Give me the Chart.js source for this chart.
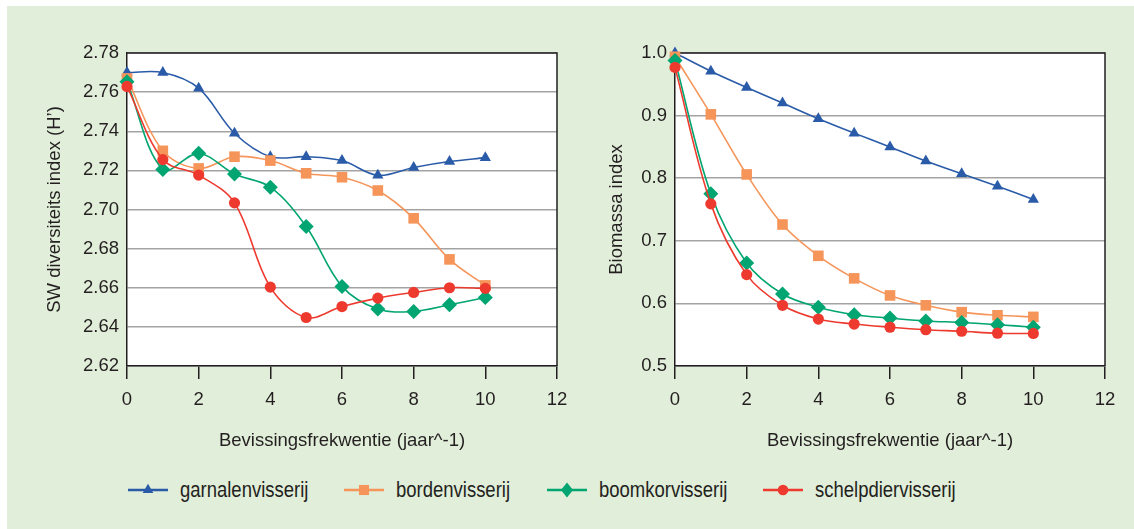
<!DOCTYPE html>
<html><head><meta charset="utf-8">
<script src="https://cdn.jsdelivr.net/npm/chart.js@4.4.1/dist/chart.umd.min.js"></script>
<style>
html,body{margin:0;padding:0;background:#fff;width:1134px;height:529px;overflow:hidden;}
#panel{position:absolute;left:7px;top:6px;width:1127px;height:523px;background:#e1eed9;}
#w1{position:absolute;left:0;top:0;width:580px;height:470px;}
#w2{position:absolute;left:560px;top:0;width:574px;height:470px;}
.leg{position:absolute;top:477px;height:26px;font-family:'Liberation Sans',Arial,sans-serif;font-size:22px;color:#231f20;line-height:26px;white-space:nowrap;}
.leg canvas{position:absolute;left:0;top:0;}
.leg span{position:absolute;top:0;transform:scaleX(0.84);transform-origin:0 50%;}
</style></head>
<body>
<div id="panel"></div>
<div id="w1"><canvas id="c1" width="580" height="470"></canvas></div>
<div id="w2"><canvas id="c2" width="574" height="470"></canvas></div>
<div id="legend"></div>
<script>
// ---- data ----
const xValues = [0,1,2,3,4,5,6,7,8,9,10];
const seriesNames = ['garnalenvisserij','bordenvisserij','boomkorvisserij','schelpdiervisserij'];
// SW diversity index (left)
const swGarnalen = [2.770,2.770,2.762,2.739,2.727,2.727,2.725,2.7175,2.7215,2.7245,2.7265];
const swBorden   = [2.767,2.730,2.721,2.727,2.725,2.7185,2.7165,2.7097,2.6955,2.6745,2.6612];
const swBoomkor  = [2.7653,2.7205,2.7287,2.7181,2.7114,2.6913,2.6607,2.6491,2.6479,2.6513,2.655];
const swSchelp   = [2.7629,2.7255,2.7176,2.7034,2.6603,2.6448,2.6504,2.6547,2.6576,2.660,2.6597];
// Biomass index (right)
const bmGarnalen = [1.000,0.971,0.945,0.920,0.895,0.872,0.850,0.8275,0.807,0.787,0.766];
const bmBorden   = [0.994,0.902,0.806,0.726,0.676,0.640,0.6127,0.597,0.586,0.581,0.5785];
const bmBoomkor  = [0.988,0.775,0.6645,0.615,0.594,0.582,0.5765,0.572,0.5695,0.566,0.562];
const bmSchelp   = [0.977,0.759,0.646,0.597,0.575,0.567,0.562,0.558,0.5555,0.5524,0.552];
const xTickMin = 0, xTickMax = 12, xTickStep = 2;
const swMin = 2.62, swMax = 2.78, swStep = 0.02;
const bmMin = 0.5, bmMax = 1.0, bmStep = 0.1;

// ---- styles ----
const FONT = "'Liberation Sans',Arial,sans-serif";
const FS = 18.5;
const TXT = '#231f20';
const colors = ['#2a5ba8','#f6955a','#00a571','#ee3a2e'];
const shapes = ['triangle','rect','rectRot','circle'];
const radii = [6.5,7.5,7.5,5.6];

function mkData(vals){ return xValues.map((x,i)=>({x:x,y:vals[i]})); }
function mkSets(arr){
  return arr.map((vals,i)=>({
    label: seriesNames[i], data: mkData(vals),
    borderColor: colors[i], backgroundColor: colors[i],
    pointBackgroundColor: colors[i], pointBorderColor: colors[i], pointBorderWidth: 0,
    pointStyle: shapes[i], pointRadius: radii[i], pointHoverRadius: radii[i],
    borderWidth: 1.6, tension: 0.35, clip: false, order: 4 - i
  }));
}
const framePlugin = {
  id:'frame',
  beforeDraw(chart){
    const a = chart.chartArea, c = chart.ctx;
    c.save(); c.fillStyle = '#ffffff'; c.fillRect(a.left,a.top,a.right-a.left,a.bottom-a.top); c.restore();
  },
  beforeDatasetsDraw(chart){
    const a = chart.chartArea, c = chart.ctx;
    c.save(); c.strokeStyle = TXT; c.lineWidth = 1.5;
    c.beginPath(); c.moveTo(a.left,a.top); c.lineTo(a.right,a.top); c.lineTo(a.right,a.bottom); c.stroke();
    c.restore();
  }
};
function mkChart(id, sets, yMin, yMax, yStep, dec, yTitle, yW, padRight, yTitlePad){
  return new Chart(document.getElementById(id), {
    type:'line',
    data:{ datasets: mkSets(sets) },
    plugins:[framePlugin],
    options:{
      responsive:false, animation:false, devicePixelRatio:1,
      layout:{ padding:{ left:0, top:53, right:padRight, bottom:0 } },
      plugins:{ legend:{display:false}, tooltip:{enabled:false} },
      scales:{
        x:{
          type:'linear', min:xTickMin, max:xTickMax,
          ticks:{ stepSize:xTickStep, color:TXT, font:{family:FONT,size:FS}, padding:10, maxRotation:0 },
          grid:{ drawOnChartArea:false, drawTicks:true, tickLength:13, color:TXT, lineWidth:1.5 },
          border:{ display:true, color:TXT, width:1.5 },
          title:{ display:true, text:'Bevissingsfrekwentie (jaar^-1)', color:TXT, font:{family:FONT,size:FS}, padding:{top:0,bottom:18} },
          afterFit(s){ s.height = 104; }
        },
        y:{
          min:yMin, max:yMax,
          ticks:{ stepSize:yStep, color:TXT, font:{family:FONT,size:FS}, padding:8, callback:(v)=>Number(v).toFixed(dec) },
          grid:{ drawOnChartArea:true, drawTicks:false, color:'#a3a3a3', lineWidth:1.5 },
          border:{ display:true, color:TXT, width:1.5 },
          title:{ display:true, text:yTitle, color:TXT, font:{family:FONT,size:FS}, padding:{top:yTitlePad,bottom:0} },
          afterFit(s){ s.width = yW; }
        }
      }
    }
  });
}
mkChart('c1',[swGarnalen,swBorden,swBoomkor,swSchelp], swMin, swMax, swStep, 2, 'SW diversiteits index (H’)', 127, 23, 44);
mkChart('c2',[bmGarnalen,bmBorden,bmBoomkor,bmSchelp], bmMin, bmMax, bmStep, 1, 'Biomassa index', 115, 29, 46);

// ---- legend ----
const legX = [128,344,547,763];
const lg = document.getElementById('legend');
seriesNames.forEach((name,i)=>{
  const d = document.createElement('div'); d.className='leg'; d.style.left = legX[i]+'px'; d.style.width='220px';
  const cv = document.createElement('canvas'); cv.width=40; cv.height=26; d.appendChild(cv);
  const s = document.createElement('span'); s.textContent = name; s.style.left='52px'; d.appendChild(s);
  lg.appendChild(d);
  const c = cv.getContext('2d');
  c.strokeStyle = colors[i]; c.fillStyle = colors[i]; c.lineWidth = 2.5;
  c.beginPath(); c.moveTo(0,13); c.lineTo(40,13); c.stroke();
  const r = radii[i]*0.95, cx=20, cy=13;
  c.beginPath();
  if (shapes[i]==='triangle'){ c.moveTo(cx,cy-r); c.lineTo(cx+r*0.866,cy+r*0.5); c.lineTo(cx-r*0.866,cy+r*0.5); c.closePath(); }
  else if (shapes[i]==='rect'){ const h=r*0.7071; c.rect(cx-h,cy-h,2*h,2*h); }
  else if (shapes[i]==='rectRot'){ c.moveTo(cx-r*0.85,cy); c.lineTo(cx,cy-r*1.05); c.lineTo(cx+r*0.85,cy); c.lineTo(cx,cy+r*1.05); c.closePath(); }
  else { c.arc(cx,cy,r,0,Math.PI*2); }
  c.fill();
});
</script>
</body></html>
